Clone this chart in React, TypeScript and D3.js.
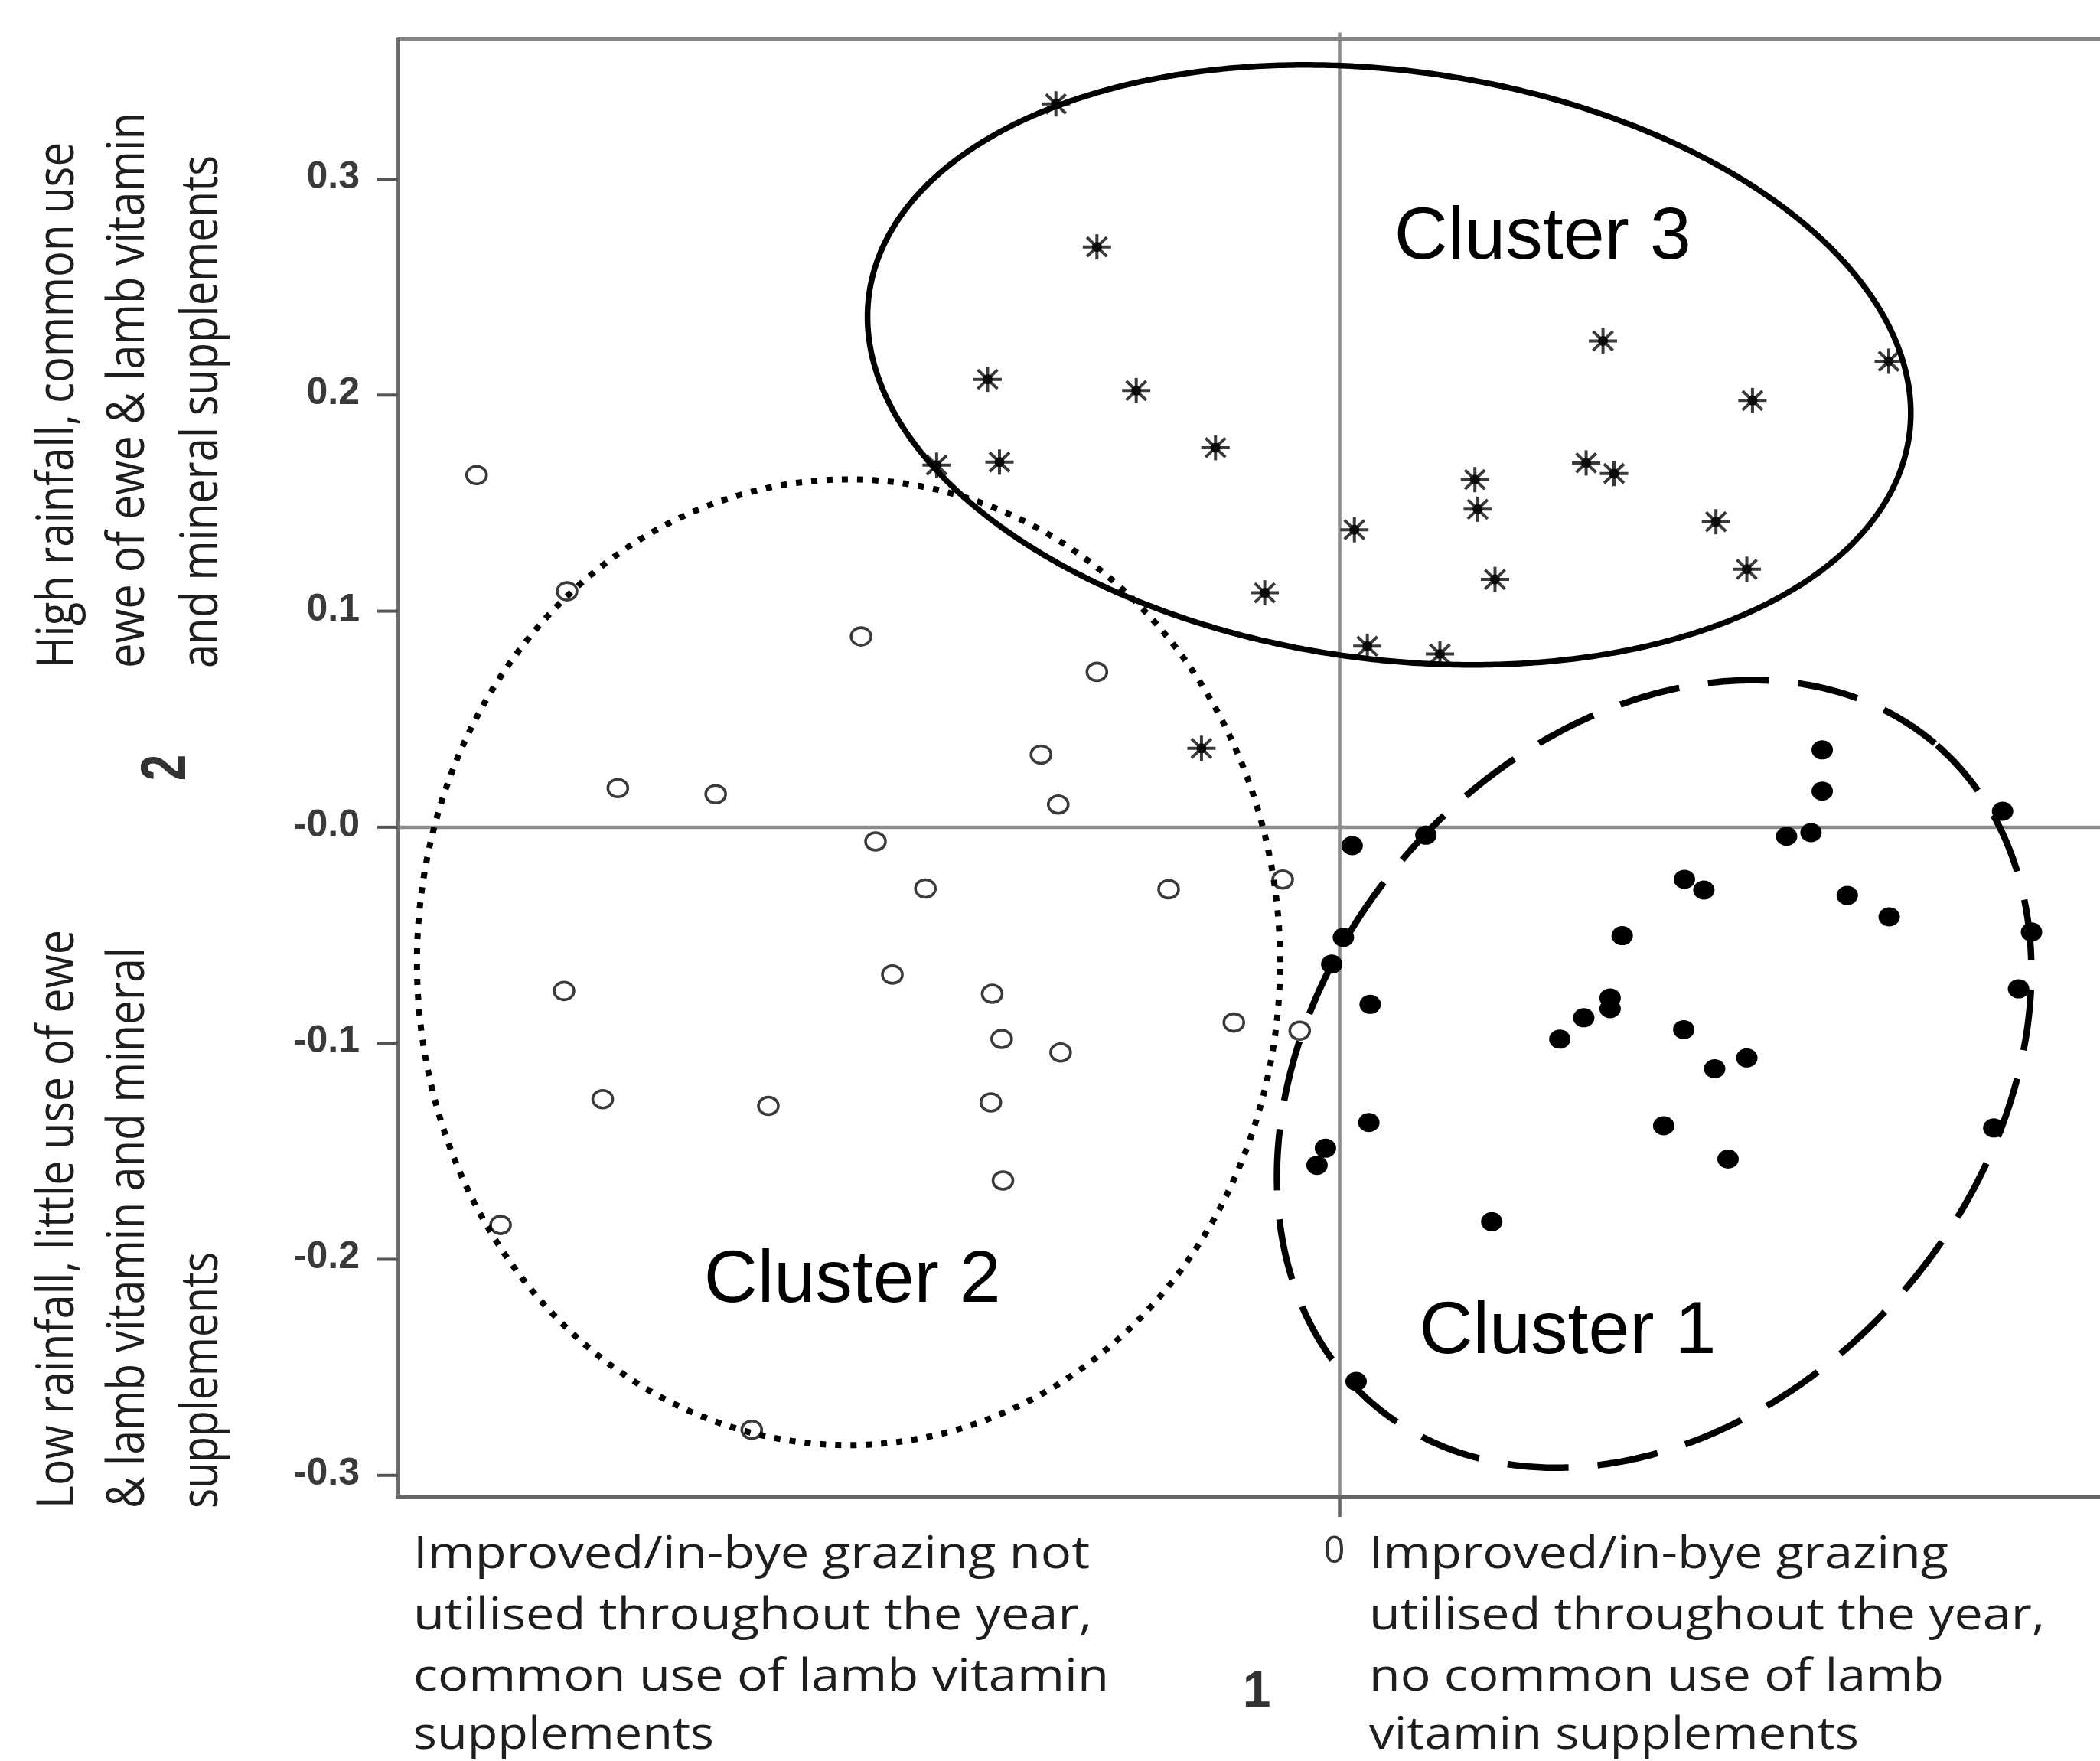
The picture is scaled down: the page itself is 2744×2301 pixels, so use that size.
import React, { useEffect } from "react";
import * as d3 from "d3";

// ---------- data ----------
const X_DOMAIN = [-0.436, 0.352];
const Y_DOMAIN = [-0.31, 0.365];
const Y_TICKS = [0.3, 0.2, 0.1, 0, -0.1, -0.2, -0.3];
const Y_TICK_LABELS = ["0.3", "0.2", "0.1", "-0.0", "-0.1", "-0.2", "-0.3"];
const X_TICKS = [0];
const X_TICK_LABELS = ["0"];

// Cluster 1 (filled dots)
const cluster1 = [
  [0.2234, 0.0358], [0.2234, 0.0167], [0.3069, 0.0074], [0.2069, -0.0042],
  [0.2182, -0.0025], [0.0058, -0.0085], [0.0399, -0.0037], [0.1596, -0.0241],
  [0.1686, -0.0291], [0.235, -0.0316], [0.2544, -0.0415], [0.1308, -0.0502],
  [0.3203, -0.0485], [0.0017, -0.051], [-0.0037, -0.0634], [0.3143, -0.0748],
  [0.0141, -0.082], [0.1252, -0.079], [0.1252, -0.084], [0.113, -0.0882],
  [0.1019, -0.0981], [0.1593, -0.0937], [0.1885, -0.1068], [0.1736, -0.1118],
  [0.0135, -0.1367], [0.15, -0.1382], [0.3028, -0.1392], [-0.0066, -0.1486],
  [-0.0105, -0.1565], [0.1798, -0.1536], [0.0704, -0.1826], [0.0076, -0.2565],
];

// Cluster 2 (open circles)
const cluster2 = [
  [-0.3996, 0.163], [-0.3577, 0.1092], [-0.2216, 0.0883], [-0.1124, 0.0719],
  [-0.1383, 0.0336], [-0.1303, 0.0105], [-0.3342, 0.0181], [-0.2889, 0.0153],
  [-0.2149, -0.0066], [-0.1918, -0.0284], [-0.0792, -0.0287], [-0.0264, -0.0242],
  [-0.3591, -0.0758], [-0.2071, -0.0682], [-0.1609, -0.0771], [-0.1565, -0.098],
  [-0.1292, -0.1043], [-0.049, -0.0904], [-0.0185, -0.0942], [-0.3412, -0.1259],
  [-0.2645, -0.129], [-0.1615, -0.1274], [-0.1559, -0.1635], [-0.3885, -0.1841],
  [-0.2722, -0.2789],
];

// Cluster 3 (asterisks)
const cluster3 = [
  [-0.1314, 0.3348], [-0.1124, 0.2686], [-0.163, 0.2073], [-0.0942, 0.2021],
  [-0.1866, 0.1676], [-0.1575, 0.169], [-0.0575, 0.1757], [-0.0347, 0.1085],
  [-0.064, 0.0365], [0.0068, 0.1377], [0.0128, 0.0838], [0.0464, 0.0802],
  [0.0626, 0.1609], [0.0639, 0.1472], [0.0719, 0.1147], [0.1141, 0.1686],
  [0.127, 0.1637], [0.1219, 0.2251], [0.1911, 0.1975], [0.1742, 0.1414],
  [0.1885, 0.1194], [0.2542, 0.2157],
];

// Cluster ellipses (centre, semi-axes, rotation in degrees) in data units
const ellipse1 = { cx: 0.1456, cy: -0.1142, a: 0.2007, b: 0.1531, angle: 49.65 };
const ellipse2 = { cx: -0.2274, cy: -0.0625, a: 0.1998, b: 0.2235, angle: 0 };
const ellipse3 = { cx: 0.0229, cy: 0.214, a: 0.243, b: 0.1362, angle: -7.7 };

const CLUSTER_LABELS = ["Cluster 1", "Cluster 2", "Cluster 3"];
const CLUSTER_LABEL_POS = [[0.0368, -0.2435], [-0.2944, -0.2198], [0.0252, 0.263]];

const Y_DESC_TOP = ["High rainfall, common use", "ewe of ewe & lamb vitamin", "and mineral supplements"];
const Y_DESC_BOTTOM = ["Low rainfall, little use of ewe", "& lamb vitamin and mineral", "supplements"];
const X_DESC_LEFT = [
  "Improved/in-bye grazing not",
  "utilised throughout the year,",
  "common use of lamb vitamin",
  "supplements",
];
const X_DESC_RIGHT = [
  "Improved/in-bye grazing",
  "utilised throughout the year,",
  "no common use of lamb",
  "vitamin supplements",
];
const X_AXIS_TITLE = "1";
const Y_AXIS_TITLE = "2";

// ---------- layout ----------
const W = 2744;
const H = 2301;
const PLOT = { left: 520, right: 2744, top: 50.5, bottom: 1956 };

const x = d3.scaleLinear().domain(X_DOMAIN).range([PLOT.left, PLOT.right]);
const y = d3.scaleLinear().domain(Y_DOMAIN).range([PLOT.bottom, PLOT.top]);

function ellipsePath(e) {
  const r = (e.angle * Math.PI) / 180;
  const c = Math.cos(r);
  const s = Math.sin(r);
  const pts = d3.range(0, 360, 0.5).map((deg) => {
    const t = (deg * Math.PI) / 180;
    const dx = e.a * Math.cos(t) * c - e.b * Math.sin(t) * s;
    const dy = e.a * Math.cos(t) * s + e.b * Math.sin(t) * c;
    return [x(e.cx + dx), y(e.cy + dy)];
  });
  return d3.line().curve(d3.curveLinearClosed)(pts);
}

const TEXT_FONT = "'Open Sans', 'Noto Sans', sans-serif";
const ARIAL = "'Liberation Sans', Arial, sans-serif";

const yDescTopLen = [687, 726, 670];
const yDescBottomLen = [756, 733, 335];
const xDescLeftLen = [884, 887, 909, 393];
const xDescRightLen = [757, 883, 751, 640];
const yDescBaselines = [96, 187.5, 283.5];
const xDescBaselines = [2049, 2129, 2209, 2285];

function Star({ cx, cy }) {
  const arms = [
    [18.5, 0],
    [0, 16.5],
    [13, 12.5],
    [13, -12.5],
  ];
  return (
    <g>
      {arms.map(([dx, dy], i) => (
        <line
          key={i}
          x1={cx - dx}
          y1={cy - dy}
          x2={cx + dx}
          y2={cy + dy}
          stroke="#3a3a3a"
          strokeWidth={4}
        />
      ))}
      <circle cx={cx} cy={cy} r={6.5} fill="#0a0a0a" />
    </g>
  );
}

export default function App() {
  useEffect(() => {
    document.body.style.margin = "0";
    document.body.style.background = "#fff";
  }, []);

  return (
    <svg
      width={W}
      height={H}
      viewBox={`0 0 ${W} ${H}`}
      style={{ position: "absolute", left: 0, top: 0, background: "#fff" }}
    >
      <rect x={0} y={0} width={W} height={H} fill="#fff" />

      {/* zero reference lines */}
      <line x1={x(0)} x2={x(0)} y1={PLOT.top - 8} y2={PLOT.bottom + 26} stroke="#8c8c8c" strokeWidth={4.5} />
      <line x1={PLOT.left} x2={PLOT.right} y1={y(0)} y2={y(0)} stroke="#8c8c8c" strokeWidth={4.5} />

      {/* frame */}
      <line x1={PLOT.left} x2={PLOT.right} y1={PLOT.top} y2={PLOT.top} stroke="#858585" strokeWidth={5} />
      <line x1={PLOT.left} x2={PLOT.left} y1={PLOT.top - 2} y2={PLOT.bottom + 2} stroke="#6e6e6e" strokeWidth={6} />
      <line x1={PLOT.left - 3} x2={PLOT.right} y1={PLOT.bottom} y2={PLOT.bottom} stroke="#666" strokeWidth={6} />

      {/* y ticks */}
      {Y_TICKS.map((t, i) => (
        <g key={t}>
          <line x1={PLOT.left - 27} x2={PLOT.left} y1={y(t)} y2={y(t)} stroke="#555" strokeWidth={4} />
          <text
            x={470}
            y={y(t) + 12}
            textAnchor="end"
            fontFamily={ARIAL}
            fontWeight="bold"
            fontSize={50}
            fill="#3a3a3a"
          >
            {Y_TICK_LABELS[i]}
          </text>
        </g>
      ))}

      {/* x ticks */}
      {X_TICKS.map((t, i) => (
        <g key={t}>
          <line x1={x(t)} x2={x(t)} y1={PLOT.bottom} y2={PLOT.bottom + 26} stroke="#666" strokeWidth={4} />
          <text x={x(t) - 7} y={2042} textAnchor="middle" fontFamily={TEXT_FONT} fontSize={49} fill="#333">
            {X_TICK_LABELS[i]}
          </text>
        </g>
      ))}

      {/* cluster 2 open circles */}
      {cluster2.map(([px, py], i) => (
        <ellipse key={`c2-${i}`} cx={x(px)} cy={y(py)} rx={13} ry={11.5} fill="none" stroke="#3a3a3a" strokeWidth={3.6} />
      ))}

      {/* cluster 1 filled dots */}
      {cluster1.map(([px, py], i) => (
        <ellipse key={`c1-${i}`} cx={x(px)} cy={y(py)} rx={14} ry={12.5} fill="#000" />
      ))}

      {/* cluster 3 asterisks */}
      {cluster3.map(([px, py], i) => (
        <Star key={`c3-${i}`} cx={x(px)} cy={y(py)} />
      ))}

      {/* cluster ellipses */}
      <path d={ellipsePath(ellipse3)} fill="none" stroke="#000" strokeWidth={7.5} />
      <path d={ellipsePath(ellipse2)} fill="none" stroke="#000" strokeWidth={8} strokeDasharray="8 12" />
      <path d={ellipsePath(ellipse1)} fill="none" stroke="#000" strokeWidth={8.5} strokeDasharray="80 38" />

      {/* cluster labels */}
      {CLUSTER_LABELS.map((lab, i) => (
        <text
          key={lab}
          x={x(CLUSTER_LABEL_POS[i][0])}
          y={y(CLUSTER_LABEL_POS[i][1])}
          fontFamily={ARIAL}
          fontSize={97}
          fill="#000"
        >
          {lab}
        </text>
      ))}

      {/* y axis title and descriptions */}
      <text
        transform={`translate(241.7, 1003) rotate(-90) scale(1, 1.35)`}
        textAnchor="middle"
        fontFamily={ARIAL}
        fontWeight="bold"
        fontSize={62}
        fill="#333"
      >
        {Y_AXIS_TITLE}
      </text>
      {Y_DESC_TOP.map((line, i) => (
        <text
          key={`yt-${i}`}
          transform={`translate(${yDescBaselines[i]}, 873) rotate(-90) scale(1, 1.17)`}
          fontFamily={TEXT_FONT}
          fontSize={58}
          fill="#1e1e1e"
          textLength={yDescTopLen[i]}
          lengthAdjust="spacingAndGlyphs"
        >
          {line}
        </text>
      ))}
      {Y_DESC_BOTTOM.map((line, i) => (
        <text
          key={`yb-${i}`}
          transform={`translate(${yDescBaselines[i]}, 1971) rotate(-90) scale(1, 1.17)`}
          fontFamily={TEXT_FONT}
          fontSize={58}
          fill="#1e1e1e"
          textLength={yDescBottomLen[i]}
          lengthAdjust="spacingAndGlyphs"
        >
          {line}
        </text>
      ))}

      {/* x axis title and descriptions */}
      <text x={1642} y={2230} textAnchor="middle" fontFamily={ARIAL} fontWeight="bold" fontSize={66} fill="#333">
        {X_AXIS_TITLE}
      </text>
      {X_DESC_LEFT.map((line, i) => (
        <text
          key={`xl-${i}`}
          x={540}
          y={xDescBaselines[i]}
          fontFamily={TEXT_FONT}
          fontSize={58}
          fill="#1e1e1e"
          textLength={xDescLeftLen[i]}
          lengthAdjust="spacingAndGlyphs"
        >
          {line}
        </text>
      ))}
      {X_DESC_RIGHT.map((line, i) => (
        <text
          key={`xr-${i}`}
          x={1789}
          y={xDescBaselines[i]}
          fontFamily={TEXT_FONT}
          fontSize={58}
          fill="#1e1e1e"
          textLength={xDescRightLen[i]}
          lengthAdjust="spacingAndGlyphs"
        >
          {line}
        </text>
      ))}
    </svg>
  );
}
